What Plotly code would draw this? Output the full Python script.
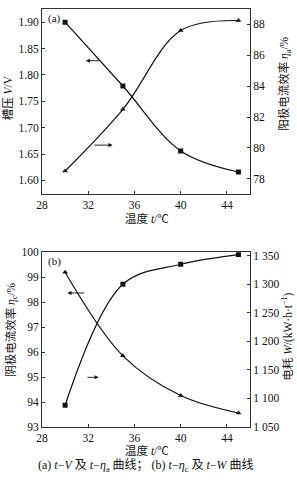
import plotly.graph_objects as go

# ---- data ----
temps = [30, 35, 40, 45]
cell_voltage = [1.90, 1.779, 1.656, 1.616]        # V, left axis (a)
anode_eff = [78.5, 82.5, 87.6, 88.25]             # eta_a %, right axis (a)
cathode_eff = [99.2, 95.85, 94.26, 93.56]         # eta_c %, left axis (b)
energy = [1088, 1300, 1335, 1352]                 # W kW·h/t, right axis (b)

x_ticks = [28, 32, 36, 40, 44]
v_ticks = [1.60, 1.65, 1.70, 1.75, 1.80, 1.85, 1.90]
ea_ticks = [78, 80, 82, 84, 86, 88]
ec_ticks = [93, 94, 95, 96, 97, 98, 99, 100]
w_ticks = [1050, 1100, 1150, 1200, 1250, 1300, 1350]
w_tick_text = ["1 050", "1 100", "1 150", "1 200", "1 250", "1 300", "1 350"]

FONT = "Liberation Serif, Noto Sans CJK SC, serif"
BLACK = "#111111"

fig = go.Figure()

def line(x, y, xa, ya, symbol):
    fig.add_trace(go.Scatter(
        x=x, y=y, xaxis=xa, yaxis=ya, mode="lines+markers",
        line=dict(color=BLACK, width=1.2, shape="spline", smoothing=1.0),
        marker=dict(symbol=symbol, size=5, color=BLACK),
        showlegend=False, hoverinfo="skip"))

line(temps, cell_voltage, "x", "y", "square")
line(temps, anode_eff, "x", "y2", "triangle-up")
line(temps, cathode_eff, "x2", "y3", "triangle-up")
line(temps, energy, "x2", "y4", "square")

axis_common = dict(showline=True, linecolor="#333333", linewidth=1,
                   ticks="inside", ticklen=3, tickcolor="#333333",
                   showgrid=False, zeroline=False,
                   tickfont=dict(family=FONT, size=11.5, color=BLACK))

fig.update_layout(
    width=297, height=480,
    margin=dict(l=42, r=47, t=3, b=53),
    paper_bgcolor="white", plot_bgcolor="white",
    font=dict(family=FONT, color=BLACK),
    xaxis=dict(domain=[0, 1], anchor="y", range=[28, 46], tickvals=x_ticks,
               mirror=True, **axis_common),
    yaxis=dict(domain=[0.557, 1], anchor="x", range=[1.574, 1.925],
               tickvals=v_ticks, tickformat=".2f", **axis_common),
    yaxis2=dict(overlaying="y", side="right", anchor="x", range=[77, 89],
                tickvals=ea_ticks, **axis_common),
    xaxis2=dict(domain=[0, 1], anchor="y3", range=[28, 46], tickvals=x_ticks,
                mirror=True, **axis_common),
    yaxis3=dict(domain=[0, 0.418], anchor="x2", range=[93, 100],
                tickvals=ec_ticks, **axis_common),
    yaxis4=dict(overlaying="y3", side="right", anchor="x2", range=[1050, 1356],
                tickvals=w_ticks, ticktext=w_tick_text, **axis_common),
)

ann = []
def arrow(xh, yh, xt, yt, xr, yr):
    ann.append(dict(x=xh, y=yh, ax=xt, ay=yt, xref=xr, yref=yr, axref=xr, ayref=yr,
                    showarrow=True, arrowhead=2, arrowsize=0.9, arrowwidth=0.9,
                    arrowcolor=BLACK, text=""))

arrow(31.8, 1.827, 33.1, 1.827, "x", "y")
arrow(34.1, 1.667, 32.4, 1.667, "x", "y")
arrow(30.2, 98.37, 31.8, 98.37, "x2", "y3")
arrow(32.9, 94.99, 31.8, 94.99, "x2", "y3")

def text(t, x, y, xr="paper", yr="paper", angle=0, size=11.5, xa="center", ya="middle"):
    ann.append(dict(text=t, x=x, y=y, xref=xr, yref=yr, showarrow=False,
                    textangle=angle, xanchor=xa, yanchor=ya,
                    font=dict(family=FONT, size=size, color=BLACK)))

text("(a)", 0.02, 0.995, "x domain", "y domain", xa="left", ya="top", size=11)
text("(b)", 0.02, 0.995, "x2 domain", "y3 domain", xa="left", ya="top", size=11)

text("温度 <i>t</i>/℃", 0.505, 0.498)
text("温度 <i>t</i>/℃", 0.505, -0.057)
text("槽压 <i>V</i>/V", -0.165, 0.788, angle=-90)
text("阳极电流效率 <i>η</i><sub>a</sub>/%", 1.168, 0.821, angle=-90)
text("阴极电流效率 <i>η</i><sub>c</sub>/%", -0.148, 0.233, angle=-90)
text("电耗 <i>W</i>/(kW·h·t<sup>−1</sup>)", 1.18, 0.217, angle=-90)
text("(a) <i>t</i>−<i>V</i> 及 <i>t</i>−<i>η</i><sub>a</sub> 曲线； (b) <i>t</i>−<i>η</i><sub>c</sub> 及 <i>t</i>−<i>W</i> 曲线",
     0.5, -0.093, size=12)

fig.update_layout(annotations=ann)
fig.write_html("out.html")
